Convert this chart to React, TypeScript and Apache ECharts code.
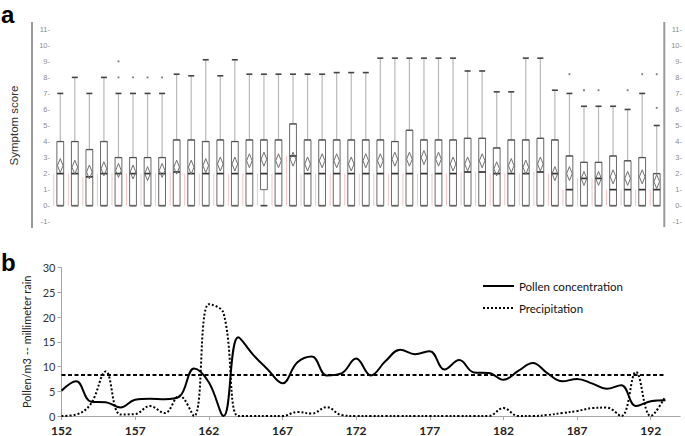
import React, { useEffect, useRef } from "react";
import * as echarts from "echarts";

// ---------- Panel a: symptom score box plots (one per day 152..193) ----------
const boxDays = [
  "152", "153", "154", "155", "156", "157", "158", "159", "160", "161",
  "162", "163", "164", "165", "166", "167", "168", "169", "170", "171",
  "172", "173", "174", "175", "176", "177", "178", "179", "180", "181",
  "182", "183", "184", "185", "186", "187", "188", "189", "190", "191",
  "192", "193",
];
const boxMax = [
  7, 8, 7, 8, 7, 7, 7, 7, 8.2, 8.1,
  9.1, 8.1, 9.1, 8.2, 8.2, 8.2, 8.2, 8.2, 8.2, 8.3,
  8.3, 8.3, 9.2, 9.2, 9.2, 9.2, 9.2, 9.2, 8.4, 8.4,
  7.1, 7.1, 9.2, 9.2, 7.2, 7, 6.2, 6.2, 6.2, 6,
  7, 5,
];
const boxQ3 = [
  4, 4, 3.5, 4, 3, 3, 3, 3, 4.1, 4.1,
  4, 4.1, 4, 4.1, 4.1, 4.1, 5.1, 4.1, 4.1, 4.1,
  4.1, 4.1, 4.1, 4.0, 4.7, 4.1, 4.1, 4.1, 4.2, 4.2,
  3.6, 4.1, 4.1, 4.2, 4.1, 3.1, 2.7, 2.7, 3.1, 2.8,
  3, 2,
];
const boxMedian = [
  2, 2, 1.8, 2, 2, 2, 2, 2, 2.1, 2,
  2, 2, 2, 2, 2, 2, 3.1, 2, 2, 2,
  2, 2, 2, 2, 2, 2, 2, 2, 2.1, 2.1,
  2, 2, 2, 2.1, 2, 1, 1.7, 1.7, 1, 1,
  1, 1,
];
const boxQ1 = [
  0, 0, 0, 0, 0, 0, 0, 0, 0, 0,
  0, 0, 0, 0, 1, 0, 0, 0, 0, 0,
  0, 0, 0, 0, 0, 0, 0, 0, 0, 0,
  0, 0, 0, 0, 0, 0, 0, 0, 0, 0,
  0, 0,
];
const boxMin = [
  0, 0, 0, 0, 0, 0, 0, 0, 0, 0,
  0, 0, 0, 0, 0, 0, 0, 0, 0, 0,
  0, 0, 0, 0, 0, 0, 0, 0, 0, 0,
  0, 0, 0, 0, 0, 0, 0, 0, 0, 0,
  0, 0,
];
const boxMean = [
  2.5, 2.4, 2.1, 2.3, 2.2, 2.1, 2.0, 2.2, 2.4, 2.4,
  2.5, 2.6, 2.6, 2.8, 2.9, 2.8, 2.9, 2.6, 2.8, 2.8,
  2.6, 2.8, 2.8, 2.9, 2.9, 3.0, 2.9, 2.6, 2.6, 2.8,
  2.3, 2.5, 2.4, 2.6, 2.0, 2.0, 1.7, 1.7, 1.8, 1.7,
  1.8, 1.5,
];
// [box index, score]
const outliers = [
  [4, 8], [4, 9], [5, 8], [6, 8], [7, 8],
  [35, 8.2], [36, 7.2], [37, 7.2], [39, 7.2], [40, 8.2],
  [41, 6.1], [41, 8.2],
];

// ---------- Panel b: pollen and precipitation per day ----------
const days = [
  "152", "153", "154", "155", "156", "157", "158", "159", "160", "161",
  "162", "163", "164", "165", "166", "167", "168", "169", "170", "171",
  "172", "173", "174", "175", "176", "177", "178", "179", "180", "181",
  "182", "183", "184", "185", "186", "187", "188", "189", "190", "191",
  "192", "193", "194",
];
const pollen = [
  5.1, 7.0, 2.9, 2.8, 1.7, 3.3, 3.5, 3.4, 3.9, 9.6,
  6.8, 0, 15.9, 12.4, 9.4, 6.6, 10.8, 12.0, 8.2, 8.6,
  11.6, 8.2, 11.1, 13.4, 12.5, 13.1, 9.4, 11.3, 8.8, 8.7,
  7.3, 9.1, 10.7, 8.6, 7.0, 7.5, 6.6, 5.5, 6.2, 2.0,
  3.0, 3.2,
];
const precipitation = [
  0, 0.3, 2.5, 9.0, 0.3, 0.4, 2.0, 0.6, 4.1, 0,
  22.6, 20.8, 0, 0, 0, 0, 0.8, 0.5, 1.8, 0.2,
  0, 0, 0, 0, 0, 0, 0, 0, 0, 0,
  1.6, 0, 0, 0.2, 0.6, 1.0, 1.6, 1.7, 0, 8.9,
  0, 4.0,
];
const thresholdLevel = 8.3;

export default function App() {
  const ref = useRef<HTMLDivElement>(null);

  useEffect(() => {
    if (!ref.current) return;
    const chart = echarts.init(ref.current, null, { renderer: "svg" });

    const boxRows = boxDays.map((_, i) => [
      i, boxMin[i], boxQ1[i], boxMedian[i], boxQ3[i], boxMax[i], boxMean[i],
    ]);

    const smallLabel = {
      fontFamily: "'Liberation Sans Narrow', 'Liberation Sans'",
      fontSize: 7.5,
      color: "#8a8a8a",
    };

    const option: any = {
      animation: false,
      backgroundColor: "#ffffff",
      grid: [
        { left: 52.7, width: 612.6, top: 29.3, height: 192.4 },
        { left: 61.5, right: 4.8, top: 267.5, height: 149.8 },
      ],
      xAxis: [
        {
          type: "category",
          gridIndex: 0,
          data: boxDays,
          boundaryGap: true,
          show: false,
        },
        {
          type: "category",
          gridIndex: 1,
          data: days,
          boundaryGap: false,
          axisLine: { lineStyle: { color: "#a6a6a6", width: 1 } },
          axisTick: { show: true, interval: 4, length: 4, lineStyle: { color: "#a6a6a6" } },
          axisLabel: {
            interval: 4,
            margin: 8,
            fontFamily: "Lato",
            fontWeight: "bold",
            fontSize: 12,
            color: "#222",
          },
          splitLine: { show: false },
        },
      ],
      yAxis: [
        {
          type: "value",
          gridIndex: 0,
          position: "left",
          min: -1,
          max: 11,
          interval: 1,
          name: "Symptom score",
          nameLocation: "middle",
          nameGap: 33,
          nameTextStyle: { fontFamily: "Liberation Sans", fontSize: 11.5, color: "#333" },
          axisLine: { show: false },
          axisTick: { show: false },
          splitLine: { show: false },
          axisLabel: { ...smallLabel, margin: 3, formatter: (v: number) => `${v}-` },
        },
        {
          type: "value",
          gridIndex: 0,
          position: "right",
          min: -1,
          max: 11,
          interval: 1,
          axisLine: { show: false },
          axisTick: { show: false },
          splitLine: { show: false },
          axisLabel: { ...smallLabel, margin: 18, align: "right", formatter: (v: number) => `${v}-` },
        },
        {
          type: "value",
          gridIndex: 1,
          min: 0,
          max: 30,
          interval: 5,
          name: "Pollen/m3 -- millimeter rain",
          nameLocation: "middle",
          nameGap: 29,
          nameTextStyle: { fontFamily: "Lato", fontSize: 11, color: "#222" },
          axisLine: { show: true, lineStyle: { color: "#a6a6a6", width: 1 } },
          axisTick: { show: true, length: 4, lineStyle: { color: "#a6a6a6" } },
          splitLine: { show: false },
          axisLabel: { margin: 6, fontFamily: "Lato", fontSize: 11, color: "#333" },
        },
      ],
      legend: {
        orient: "vertical",
        left: 477,
        top: 275,
        itemWidth: 31,
        itemHeight: 14,
        itemGap: 10,
        data: ["Pollen concentration", "Precipitation"],
        itemStyle: { opacity: 0 },
        textStyle: { fontFamily: "Lato", fontSize: 11.5, color: "#111" },
      },
      graphic: {
        elements: [
          {
            type: "rect",
            shape: { x: 31, y: 22, width: 2, height: 206 },
            style: { fill: "#999" },
          },
          {
            type: "rect",
            shape: { x: 663.3, y: 22, width: 2, height: 205 },
            style: { fill: "#999" },
          },
          {
            type: "text",
            x: 1,
            y: 2,
            style: { text: "a", font: "bold 24px 'Liberation Sans'", fill: "#000" },
          },
          {
            type: "text",
            x: 1,
            y: 250,
            style: { text: "b", font: "bold 24px 'Liberation Sans'", fill: "#000" },
          },
        ],
      },
      series: [
        {
          type: "custom",
          name: "Symptom score",
          xAxisIndex: 0,
          yAxisIndex: 0,
          data: boxRows,
          encode: { x: 0, y: [1, 2, 3, 4, 5, 6] },
          renderItem: (params: any, api: any) => {
            const i = api.value(0);
            const vMin = api.value(1);
            const q1 = api.value(2);
            const med = api.value(3);
            const q3 = api.value(4);
            const vMax = api.value(5);
            const mean = api.value(6);
            const y = (v: number) => api.coord([i, v])[1];
            const x = api.coord([i, 0])[0];
            const hw = 3.4;
            const children: any[] = [
              {
                type: "line",
                shape: { x1: x - 6.5, y1: y(vMin), x2: x - 6.5, y2: y(med) },
                style: { stroke: "rgba(220,90,90,0.35)", lineWidth: 1 },
              },
              {
                type: "line",
                shape: { x1: x, y1: y(q3), x2: x, y2: y(vMax) },
                style: { stroke: "#b8b8b8", lineWidth: 1.2 },
              },
            ];
            if (q1 > vMin) {
              children.push({
                type: "line",
                shape: { x1: x, y1: y(q1), x2: x, y2: y(vMin) },
                style: { stroke: "#b8b8b8", lineWidth: 1.2 },
              });
            }
            children.push(
              {
                type: "line",
                shape: { x1: x - 3, y1: y(vMax), x2: x + 3, y2: y(vMax) },
                style: { stroke: "#444", lineWidth: 1.6 },
              },
              {
                type: "line",
                shape: { x1: x - hw, y1: y(vMin), x2: x + hw, y2: y(vMin) },
                style: { stroke: "#444", lineWidth: 1.6 },
              },
              {
                type: "rect",
                shape: { x: x - hw, y: y(q3), width: hw * 2, height: y(q1) - y(q3) },
                style: { fill: "none", stroke: "#6a6a6a", lineWidth: 1 },
              },
              {
                type: "line",
                shape: { x1: x - hw, y1: y(q3), x2: x + hw, y2: y(q3) },
                style: { stroke: "#555", lineWidth: 1.3 },
              },
              {
                type: "line",
                shape: { x1: x - hw, y1: y(med), x2: x + hw, y2: y(med) },
                style: { stroke: "#333", lineWidth: 1.7 },
              },
              {
                type: "polygon",
                shape: {
                  points: [
                    [x, y(mean) - 7],
                    [x + 2.8, y(mean)],
                    [x, y(mean) + 7],
                    [x - 2.8, y(mean)],
                  ],
                },
                style: { fill: "none", stroke: "#707070", lineWidth: 1 },
              }
            );
            return { type: "group", children };
          },
          z: 2,
        },
        {
          type: "scatter",
          name: "Outliers",
          xAxisIndex: 0,
          yAxisIndex: 0,
          data: outliers,
          symbol: "rect",
          symbolSize: 1.8,
          itemStyle: { color: "#555" },
          z: 3,
        },
        {
          type: "line",
          name: "Pollen concentration",
          xAxisIndex: 1,
          yAxisIndex: 2,
          data: pollen,
          smooth: 0.4,
          symbol: "none",
          showSymbol: false,
          lineStyle: { color: "#000", width: 2 },
          itemStyle: { color: "#000" },
          markLine: {
            silent: true,
            symbol: ["none", "none"],
            label: { show: false },
            lineStyle: { color: "#000", width: 1.8, type: [4, 2.5] },
            data: [
              [
                { coord: ["152", thresholdLevel] },
                { coord: ["193", thresholdLevel] },
              ],
            ],
          },
          z: 3,
        },
        {
          type: "line",
          name: "Precipitation",
          xAxisIndex: 1,
          yAxisIndex: 2,
          data: precipitation,
          smooth: 0.4,
          symbol: "none",
          showSymbol: false,
          lineStyle: { color: "#000", width: 2, type: [2, 2] },
          itemStyle: { color: "#000" },
          z: 3,
        },
      ],
    };

    chart.setOption(option);
    return () => chart.dispose();
  }, []);

  return (
    <div
      ref={ref}
      style={{ position: "fixed", left: 0, top: 0, width: 685, height: 436, background: "#fff" }}
    />
  );
}
